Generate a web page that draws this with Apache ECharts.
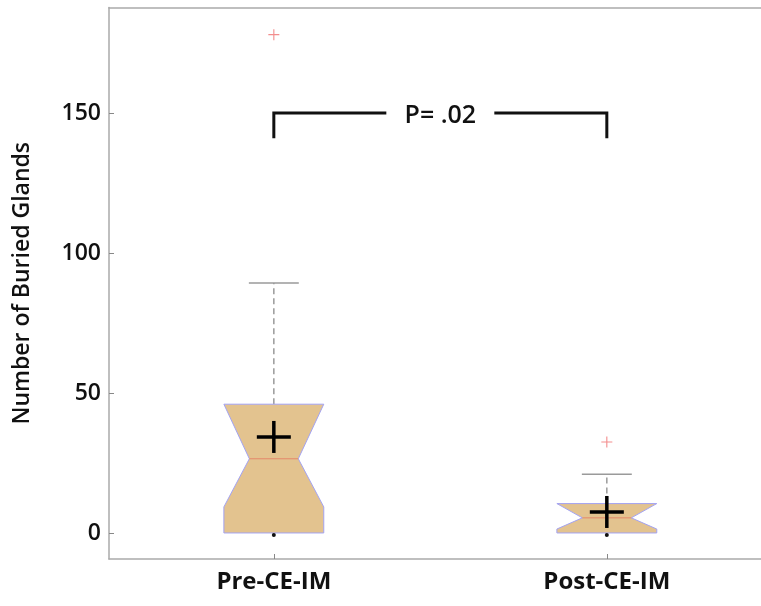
<!DOCTYPE html>
<html>
<head>
<meta charset="utf-8">
<script src="https://cdn.jsdelivr.net/npm/echarts@6/dist/echarts.min.js"></script>
<style>html,body{margin:0;padding:0;background:#fff;}#c{width:761px;height:606px;}</style>
</head>
<body>
<div id="c"></div>
<script>
// ---- data ----
var categories = ['Pre-CE-IM', 'Post-CE-IM'];
var positions = [1, 2];
var lowerWhisker = [0, 0];
var q1 = [0, 0];
var median = [26.5, 5.4];
var q3 = [46, 10.5];
var upperWhisker = [89.3, 21];
var notchLow = [9.3, 1.4];
var notchHigh = [46, 10.5];
var means = [34.3, 7.5];
var outlierPos = [1, 2];
var outlierVal = [178, 32.5];
var yTicks = [0, 50, 100, 150];
var bracketFrom = 1, bracketTo = 2, bracketTop = 150, bracketDrop = 141;
var pLabel = 'P= .02';

var boxData = positions.map(function (p, i) {
  return [p, lowerWhisker[i], q1[i], median[i], q3[i], upperWhisker[i], notchLow[i], notchHigh[i]];
});
var meanData = positions.map(function (p, i) { return [p, means[i]]; });
var outData = outlierPos.map(function (p, i) { return [p, outlierVal[i]]; });

var chart = echarts.init(document.getElementById('c'));

function renderBox(params, api) {
  var x = api.value(0);
  var lw = api.value(1), b1 = api.value(2), md = api.value(3), b3 = api.value(4),
      uw = api.value(5), nl = api.value(6), nh = api.value(7);
  var hw = api.size([0.3, 0])[0] / 2;
  var nw = hw * 0.49;
  var cw = api.size([0.15, 0])[0] / 2;
  var cx = api.coord([x, md])[0];
  function Y(v) { return api.coord([x, v])[1]; }
  var pts = [
    [cx - hw, Y(b3)], [cx - hw, Y(nh)], [cx - nw, Y(md)], [cx - hw, Y(nl)], [cx - hw, Y(b1)],
    [cx + hw, Y(b1)], [cx + hw, Y(nl)], [cx + nw, Y(md)], [cx + hw, Y(nh)], [cx + hw, Y(b3)]
  ];
  return {
    type: 'group',
    children: [
      { type: 'line', shape: { x1: cx, y1: Y(b3), x2: cx, y2: Y(uw) },
        style: { stroke: '#9a9a9a', lineWidth: 1.5, lineDash: [6, 4] } },
      { type: 'line', shape: { x1: cx - cw, y1: Y(uw), x2: cx + cw, y2: Y(uw) },
        style: { stroke: '#9a9a9a', lineWidth: 1.5 } },
      { type: 'polygon', shape: { points: pts },
        style: { fill: '#e3c38f', stroke: '#a3a3f2', lineWidth: 1 } },
      { type: 'line', shape: { x1: cx - nw, y1: Y(md), x2: cx + nw, y2: Y(md) },
        style: { stroke: '#e4886a', lineWidth: 1 } },
      { type: 'circle', shape: { cx: cx, cy: Y(lw) + 2, r: 2 },
        style: { fill: '#111' } }
    ]
  };
}

function renderMean(params, api) {
  var c = api.coord([api.value(0), api.value(1)]);
  return {
    type: 'group',
    children: [
      { type: 'line', shape: { x1: c[0] - 17, y1: c[1], x2: c[0] + 17, y2: c[1] },
        style: { stroke: '#000', lineWidth: 3.5 } },
      { type: 'line', shape: { x1: c[0], y1: c[1] - 16, x2: c[0], y2: c[1] + 16 },
        style: { stroke: '#000', lineWidth: 3.5 } }
    ]
  };
}

function renderBracket(params, api) {
  var a = api.coord([bracketFrom, bracketTop]);
  var b = api.coord([bracketTo, bracketTop]);
  var d = api.coord([bracketFrom, bracketDrop]);
  var mid = (a[0] + b[0]) / 2;
  var gap = 54;
  return {
    type: 'group',
    children: [
      { type: 'polyline', shape: { points: [[a[0], d[1]], [a[0], a[1]], [mid - gap, a[1]]] },
        style: { stroke: '#111', lineWidth: 3, fill: null, lineJoin: 'miter' } },
      { type: 'polyline', shape: { points: [[mid + gap, b[1]], [b[0], b[1]], [b[0], d[1]]] },
        style: { stroke: '#111', lineWidth: 3, fill: null, lineJoin: 'miter' } },
      { type: 'text', style: { text: pLabel, x: mid, y: a[1] + 3, align: 'center', verticalAlign: 'middle',
        fontSize: 25, fontWeight: 600, fontFamily: 'Open Sans', fill: '#111' } }
    ]
  };
}

chart.setOption({
  animation: false,
  backgroundColor: '#fff',
  grid: { left: 109, top: 7.5, right: 0, height: 551.5, containLabel: false, show: false },
  xAxis: [{
    type: 'value', min: 0.505, max: 2.463,
    splitLine: { show: false },
    axisLine: { show: true, onZero: false, lineStyle: { color: '#aaa', width: 1.5 } },
    axisTick: { show: true, inside: true, length: 5, customValues: positions, lineStyle: { color: '#888' } },
    axisLabel: { customValues: positions, margin: 11, fontSize: 24, fontWeight: 'bold', fontFamily: 'Open Sans', color: '#111',
      formatter: function (v) { var i = positions.indexOf(v); return i >= 0 ? categories[i] : ''; } }
  }, {
    type: 'value', position: 'top', min: 0.505, max: 2.463,
    splitLine: { show: false },
    axisLine: { show: true, onZero: false, lineStyle: { color: '#aaa', width: 1.5 } },
    axisTick: { show: false }, axisLabel: { show: false }
  }],
  yAxis: {
    type: 'value', min: -9.3, max: 187.7,
    name: 'Number of Buried Glands', nameLocation: 'middle', nameGap: 75,
    nameTextStyle: { fontSize: 23, fontWeight: 600, fontFamily: 'Open Sans', color: '#111' },
    splitLine: { show: false },
    axisLine: { show: true, onZero: false, lineStyle: { color: '#aaa', width: 1.5 } },
    axisTick: { show: true, inside: true, length: 5, customValues: yTicks, lineStyle: { color: '#888' } },
    axisLabel: { customValues: yTicks, margin: 8, fontSize: 23, fontWeight: 600, fontFamily: 'Open Sans', color: '#111' }
  },
  series: [
    { type: 'custom', renderItem: renderBox, data: boxData, encode: { x: 0, y: [1, 5] }, clip: false, z: 2 },
    { type: 'scatter', data: outData, symbol: 'path://M4.5,0h1v10h-1zM0,4.5h10v1h-10z', symbolSize: 11,
      itemStyle: { color: '#f07070' }, z: 3 },
    { type: 'custom', renderItem: renderMean, data: meanData, encode: { x: 0, y: 1 }, z: 4 },
    { type: 'custom', renderItem: renderBracket, data: [[1.5, bracketTop]], encode: { x: 0, y: 1 }, z: 5 }
  ]
});
</script>
</body>
</html>
